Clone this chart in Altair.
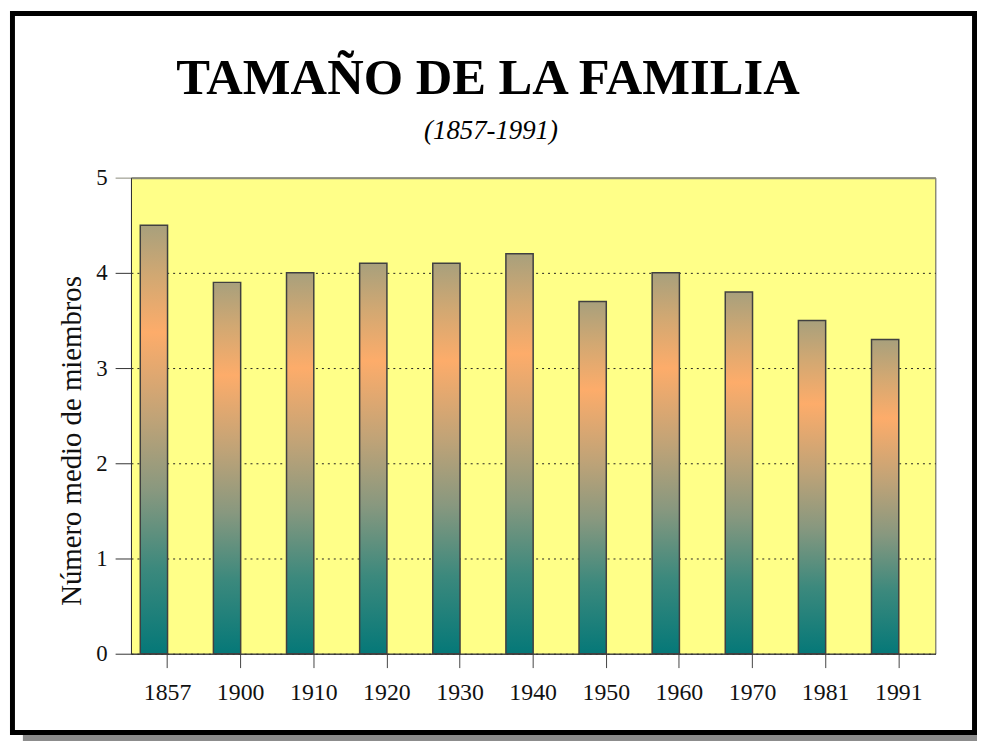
import altair as alt
import pandas as pd

# ---- data ----
years = ["1857", "1900", "1910", "1920", "1930", "1940", "1950", "1960", "1970", "1981", "1991"]
members = [4.5, 3.9, 4.0, 4.1, 4.1, 4.2, 3.7, 4.0, 3.8, 3.5, 3.3]
y_ticks = [0, 1, 2, 3, 4, 5]

title_text = "TAMAÑO DE LA FAMILIA"
subtitle_text = "(1857-1991)"
y_title = "Número medio de miembros"

df = pd.DataFrame({"year": years, "members": members})
one = pd.DataFrame({"k": [0]})

W, H = 811, 480
SERIF = "Liberation Serif"

grad = alt.Gradient(
    gradient="linear",
    x1=0, x2=0, y1=0, y2=1,
    stops=[
        alt.GradientStop(offset=0.0, color="#a8a07c"),
        alt.GradientStop(offset=0.12, color="#d2a872"),
        alt.GradientStop(offset=0.25, color="#fdac6a"),
        alt.GradientStop(offset=0.45, color="#c0a377"),
        alt.GradientStop(offset=0.62, color="#88987f"),
        alt.GradientStop(offset=0.8, color="#3c897d"),
        alt.GradientStop(offset=1.0, color="#057878"),
    ],
)

bars = alt.Chart(df).mark_bar(
    fill=grad, stroke="#404040", strokeWidth=1.5, width=27.5, xOffset=-13.75
).encode(
    x=alt.X(
        "year:N",
        sort=years,
        scale=alt.Scale(paddingInner=0, paddingOuter=0),
        axis=alt.Axis(
            title=None,
            labelAngle=0,
            labelFont=SERIF,
            labelFontSize=24,
            labelColor="#111",
            labelPadding=13,
            tickSize=14,
            tickColor="#444",
            domainColor="#333",
            grid=False,
        ),
    ),
    y=alt.Y(
        "members:Q",
        scale=alt.Scale(domain=[0, 5], nice=False),
        axis=alt.Axis(
            values=y_ticks,
            title=y_title,
            titleFont=SERIF,
            titleFontSize=29,
            titleFontWeight="normal",
            titleColor="#111",
            titleAngle=270,
            titleX=-60,
            titleY=265,
            titleAlign="center",
            titleBaseline="middle",
            labelFont=SERIF,
            labelFontSize=23,
            labelColor="#111",
            labelPadding=8,
            tickSize=16,
            tickColor={"condition": {"test": "datum.value === 5", "value": "#8a8a7a"}, "value": "#333"},
            domainColor="#333",
            grid=True,
            gridColor={"condition": {"test": "datum.value === 5", "value": "#8a8a7a"}, "value": "#222"},
            gridDash={"condition": {"test": "datum.value === 5", "value": []}, "value": [2, 4]},
            gridWidth={"condition": {"test": "datum.value === 5", "value": 2}, "value": 1},
        ),
    ),
)

title = alt.Chart(one).mark_text(
    text=title_text, font=SERIF, fontSize=51, fontWeight="bold",
    color="black", align="center", baseline="alphabetic",
).encode(x=alt.value(360), y=alt.value(-84))

subtitle = alt.Chart(one).mark_text(
    text=subtitle_text, font=SERIF, fontSize=27, fontStyle="italic",
    color="black", align="center", baseline="alphabetic",
).encode(x=alt.value(363), y=alt.value(-39))

frame = alt.Chart(one).mark_rect(
    fillOpacity=0, stroke="black", strokeWidth=5
).encode(x=alt.value(-119.5), x2=alt.value(850.5), y=alt.value(-165.5), y2=alt.value(559.5))

shadow = alt.Chart(one).mark_rect(color="#8c8c8c").encode(
    x=alt.value(-109), x2=alt.value(853), y=alt.value(562), y2=alt.value(568)
)

chart = alt.layer(shadow, frame, bars, title, subtitle).properties(
    width=W,
    height=H,
    padding={"left": 124, "top": 168, "right": 42, "bottom": 88},
    autosize=alt.AutoSizeParams(type="none"),
    background="white",
).configure_view(fill="#ffff88", stroke="#555", strokeWidth=1)

chart.save("out.html", embed_options={"renderer": "svg", "actions": False})
